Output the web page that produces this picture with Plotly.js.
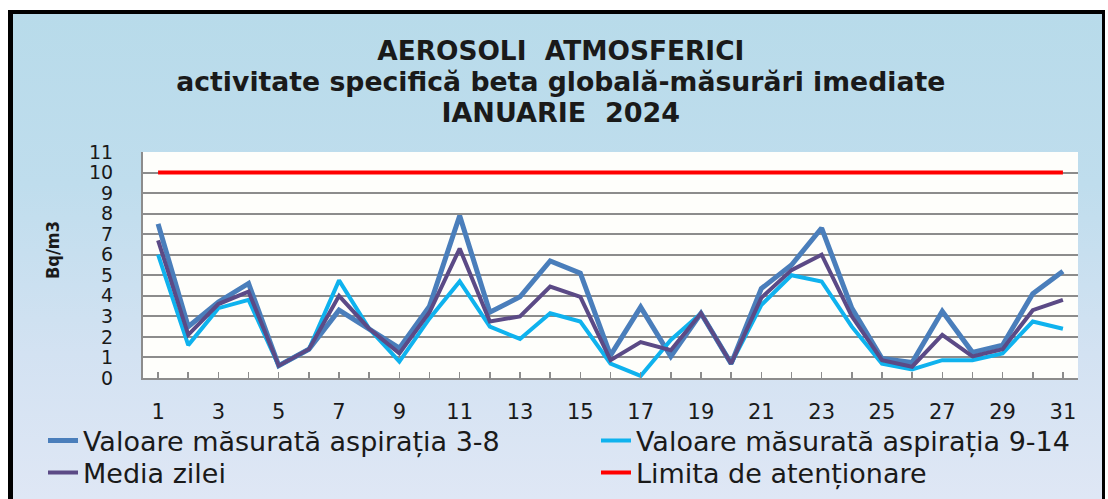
<!DOCTYPE html>
<html>
<head>
<meta charset="utf-8">
<script src="https://cdn.plot.ly/plotly-3.0.1.min.js"></script>
<style>
  html, body { margin: 0; padding: 0; background: #ffffff; width: 1108px; height: 499px; overflow: hidden; }
  #frame {
    position: absolute; left: 8px; top: 10px;
    width: 1089px; height: 485px;
    border-left: 5px solid #000; border-top: 4px solid #000; border-right: 3px solid #000;
    background: linear-gradient(to bottom, #b8dbea 0%, #bfdded 35%, #d3e2f2 70%, #dfe7f5 100%);
  }
  #chart { position: absolute; left: 0; top: 0; width: 1089px; height: 485px; }
</style>
</head>
<body>
<div id="frame"><div id="chart"></div></div>
<script>
const days = [1,2,3,4,5,6,7,8,9,10,11,12,13,14,15,16,17,18,19,20,21,22,23,24,25,26,27,28,29,30,31];
const tickLabels = ['1','','3','','5','','7','','9','','11','','13','','15','','17','','19','','21','','23','','25','','27','','29','','31'];
const aspiratia38 = [7.5,2.5,3.7,4.6,0.6,1.4,3.3,2.4,1.45,3.5,7.9,3.2,3.95,5.7,5.1,1.1,3.45,1.05,3.15,0.7,4.35,5.5,7.3,3.4,0.95,0.75,3.25,1.25,1.6,4.1,5.2];
const aspiratia914 = [6.0,1.6,3.4,3.8,0.6,1.4,4.75,2.4,0.8,2.9,4.7,2.5,1.9,3.15,2.75,0.7,0.1,1.85,3.15,0.7,3.55,5.0,4.7,2.5,0.7,0.42,0.87,0.87,1.2,2.75,2.4];
const mediaZilei = [6.7,2.1,3.6,4.2,0.6,1.4,4.0,2.4,1.2,3.2,6.3,2.75,3.0,4.45,3.95,0.87,1.75,1.35,3.15,0.7,3.9,5.25,6.0,3.0,0.87,0.55,2.1,1.05,1.4,3.3,3.8];
const limita = [10,10,10,10,10,10,10,10,10,10,10,10,10,10,10,10,10,10,10,10,10,10,10,10,10,10,10,10,10,10,10];
const yTicks = [0,1,2,3,4,5,6,7,8,9,10,11];

const traces = [
  {x: days, y: aspiratia38, name: 'Valoare măsurată aspirația 3-8', mode: 'lines', line: {color: '#4a7ebb', width: 5}, legend: 'legend'},
  {x: days, y: aspiratia914, name: 'Valoare măsurată aspirația 9-14', mode: 'lines', line: {color: '#0fb2ee', width: 4}, legend: 'legend2'},
  {x: days, y: mediaZilei, name: 'Media zilei', mode: 'lines', line: {color: '#5b4a86', width: 4}, legend: 'legend3'},
  {x: days, y: limita, name: 'Limita de atenționare', mode: 'lines', line: {color: '#ff0000', width: 4}, legend: 'legend4'}
];

const legendFont = {family: 'DejaVu Sans', size: 27, color: '#1a1a1a'};
function legendAt(xpx, ypx) {
  return {
    orientation: 'v', xref: 'container', yref: 'container',
    x: xpx / 1089, xanchor: 'left', y: 1 - ypx / 485, yanchor: 'middle',
    font: legendFont, bgcolor: 'rgba(0,0,0,0)', borderwidth: 0
  };
}

const layout = {
  width: 1089, height: 485,
  margin: {l: 130, r: 24, t: 138, b: 121, autoexpand: false},
  paper_bgcolor: 'rgba(0,0,0,0)',
  plot_bgcolor: '#fefefb',
  font: {family: 'DejaVu Sans', color: '#1a1a1a'},
  title: {
    text: '<b><span style="font-size:26.4px">AEROSOLI  ATMOSFERICI</span><br><span style="font-size:26.7px">activitate specifică beta globală-măsurări imediate</span><br><span style="font-size:27px">IANUARIE  2024</span></b>',
    font: {family: 'DejaVu Sans', size: 24, color: '#1a1a1a'},
    x: 0.503, xanchor: 'center', y: 1 - 46/485, yanchor: 'top'
  },
  xaxis: {
    range: [0.5, 31.5],
    tickmode: 'array', tickvals: days, ticktext: tickLabels,
    ticks: 'inside', ticklen: 6, tickcolor: '#8c8c8c', tickwidth: 1.5,
    showgrid: false, zeroline: false,
    showline: true, linecolor: '#8c8c8c', linewidth: 2,
    tickfont: {family: 'DejaVu Sans', size: 21, color: '#1a1a1a'},
    ticklabelstandoff: 14
  },
  yaxis: {
    range: [0, 11],
    tickmode: 'array', tickvals: yTicks,
    ticks: '', showgrid: true, gridcolor: '#8c8c8c', gridwidth: 2,
    zeroline: false, showline: true, linecolor: '#8c8c8c', linewidth: 2,
    tickfont: {family: 'DejaVu Sans', size: 19, color: '#1a1a1a'},
    ticklabelstandoff: 24
  },
  annotations: [
    {text: '<b>Bq/m3</b>', xref: 'paper', yref: 'paper', x: (39 - 130) / 935, y: (364 - 236) / 226,
     xanchor: 'center', yanchor: 'middle', textangle: -90, showarrow: false,
     font: {family: 'DejaVu Sans Condensed, DejaVu Sans', size: 18, color: '#1a1a1a'}}
  ],
  showlegend: true,
  legend: legendAt(30, 427),
  legend2: legendAt(583, 427),
  legend3: legendAt(30, 459),
  legend4: legendAt(583, 459)
};

Plotly.newPlot('chart', traces, layout, {displayModeBar: false, staticPlot: true});
</script>
</body>
</html>
